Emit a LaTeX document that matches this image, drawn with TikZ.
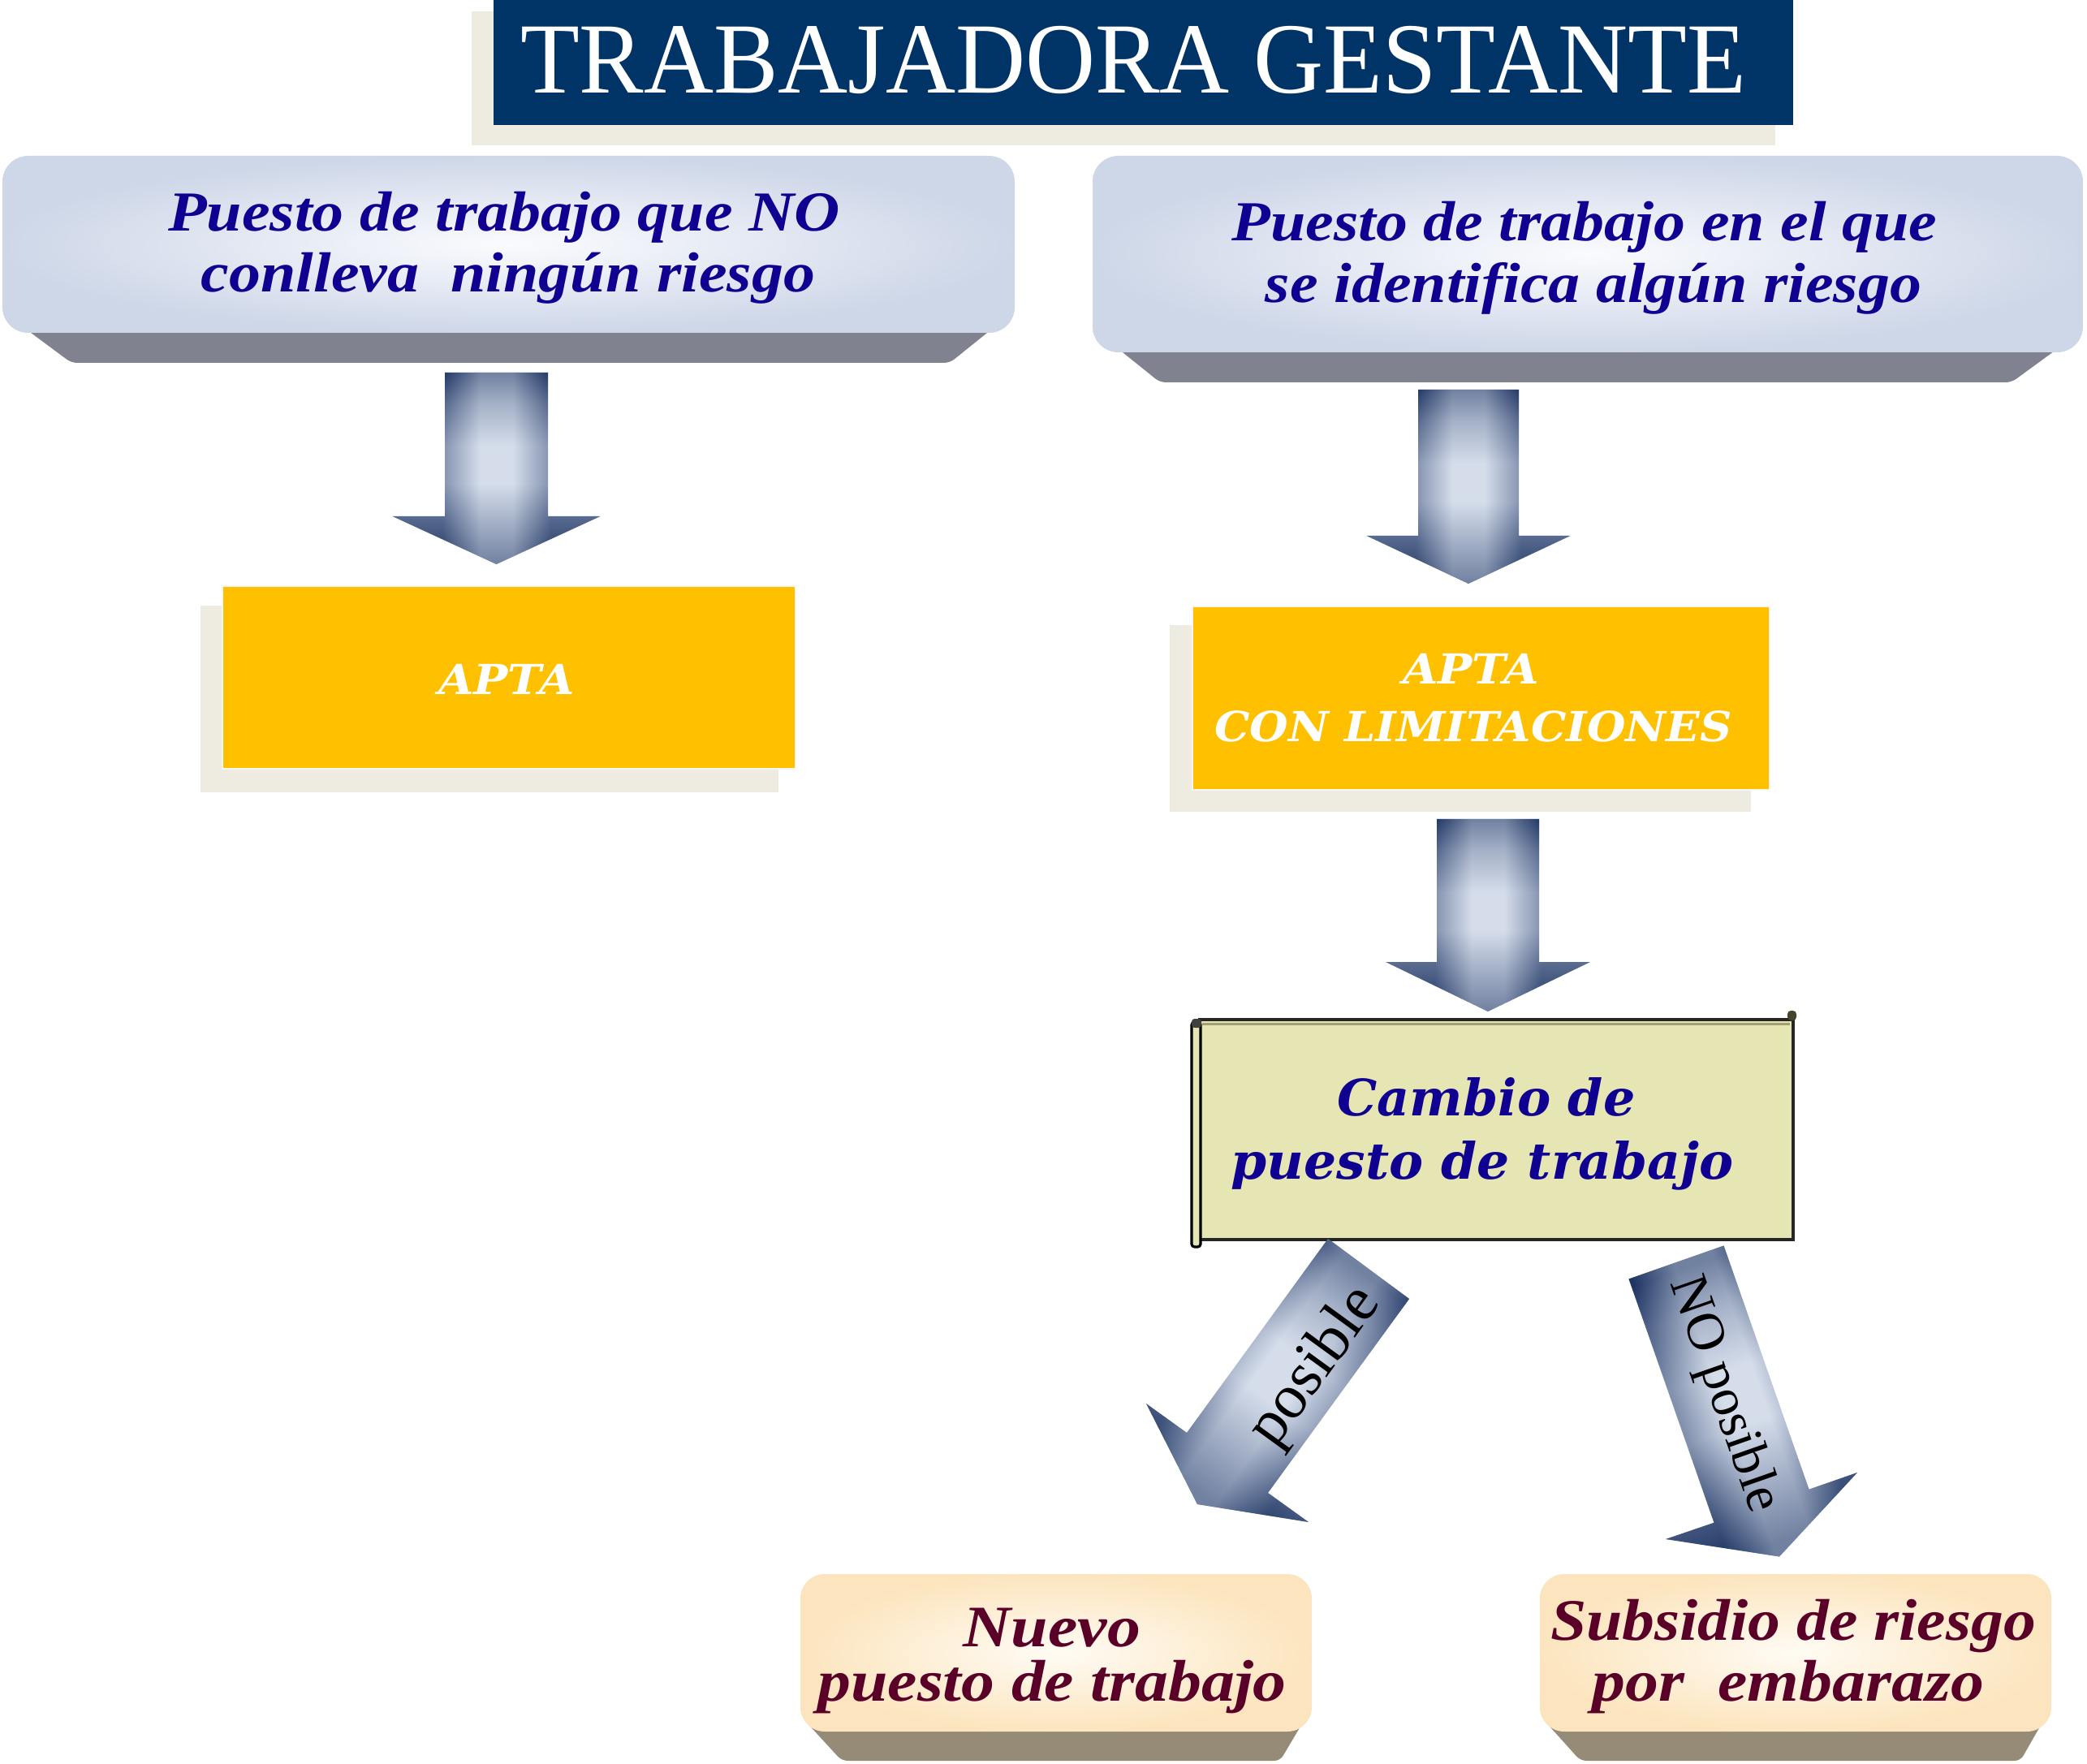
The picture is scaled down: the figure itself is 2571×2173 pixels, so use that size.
\documentclass[tikz,border=0pt]{standalone}
\usepackage{fontspec}
\usepackage{graphicx}
\newfontfamily\lsf{Liberation Serif}
\newfontfamily\djs{DejaVu Serif}
\definecolor{navy}{RGB}{0,51,102}
\definecolor{shbeige}{RGB}{238,236,225}
\definecolor{boxout}{RGB}{206,215,232}
\definecolor{boxin}{RGB}{250,251,254}
\definecolor{bevgray}{RGB}{128,131,143}
\definecolor{bluetxt}{RGB}{16,0,145}
\definecolor{aptay}{RGB}{255,192,0}
\definecolor{adark}{RGB}{31,54,100}
\definecolor{amid}{RGB}{125,140,170}
\definecolor{alight}{RGB}{213,221,235}
\definecolor{cambio}{RGB}{230,230,180}
\definecolor{cambioline}{RGB}{160,160,115}
\definecolor{creamout}{RGB}{252,229,190}
\definecolor{creamin}{RGB}{255,251,244}
\definecolor{bevbrown}{RGB}{150,139,119}
\definecolor{maroon}{RGB}{90,0,40}
\pgfdeclareverticalshading{arrowsh}{100bp}{color(0bp)=(adark); color(25bp)=(adark); color(36bp)=(amid); color(46bp)=(alight); color(56bp)=(alight); color(67bp)=(amid); color(75bp)=(adark); color(100bp)=(adark)}
\pgfdeclareverticalshading{sidesh}{100bp}{color(0bp)=(adark); color(25bp)=(adark); color(37bp)=(adark); color(46bp)=(alight); color(54bp)=(alight); color(63bp)=(adark); color(75bp)=(adark); color(100bp)=(adark)}
\newcommand\blockarrow[2]{%
  \shade[shading=arrowsh, shading angle=#2] #1;
  \shade[shading=sidesh, shading angle=#2+90, fill opacity=0.45] #1;}
\newcommand\varrow[6]{% xc, ytop, yhead, ytip, half shaft, half head
  \blockarrow{({#1-#5},#2) -- ({#1+#5},#2) -- ({#1+#5},#3) -- ({#1+#6},#3) -- (#1,#4) -- ({#1-#6},#3) -- ({#1-#5},#3) -- cycle}{0}}
\tikzset{
  bluefont/.style={font=\lsf\bfseries\itshape\fontsize{19.8pt}{21pt}\selectfont, text=bluetxt, anchor=base, inner sep=0pt},
  aptafont/.style={font=\djs\bfseries\itshape\fontsize{14.5pt}{16pt}\selectfont, text=white, anchor=base, inner sep=0pt},
  cambiofont/.style={font=\djs\bfseries\itshape\fontsize{17.6pt}{19pt}\selectfont, text=bluetxt, anchor=base, inner sep=0pt},
  creamfont/.style={font=\lsf\bfseries\itshape\fontsize{20.6pt}{22pt}\selectfont, text=maroon, anchor=base, inner sep=0pt},
  arrowfont/.style={text=black, inner sep=0pt}
}
\begin{document}
\begin{tikzpicture}[x=0.01cm,y=-0.01cm]
\useasboundingbox (0,0) rectangle (2571,2173);
% title
\fill[shbeige] (581,14) rectangle (2187,179);
\fill[navy] (608,0) rectangle (2209,154);
\node[font=\lsf\fontsize{35.3pt}{36pt}\selectfont, text=white, anchor=base, inner sep=0pt] (title) at (1396,115) {\scalebox{0.96}[1]{TRABAJADORA GESTANTE}};
% top left box
\fill[bevgray, rounded corners=2pt] (22,398) -- (1231,398) -- (1170,447) -- (88,447) -- cycle;
\shade[inner color=boxin, outer color=boxout, rounded corners=9pt] (3,192) rectangle (1250,410);
\node[bluefont] (tl1) at (621,285) {\scalebox{1.12}[1]{Puesto de trabajo que NO}};
\node[bluefont] (tl2) at (626,360) {\scalebox{1.12}[1]{conlleva\ \ ningún riesgo}};
% top right box
\fill[bevgray, rounded corners=2pt] (1368,422) -- (2545,422) -- (2478,471) -- (1429,471) -- cycle;
\shade[inner color=boxin, outer color=boxout, rounded corners=9pt] (1346,192) rectangle (2566,434);
\node[bluefont] (tr1) at (1952,297) {\scalebox{1.12}[1]{Puesto de trabajo en el que}};
\node[bluefont] (tr2) at (1963,373) {\scalebox{1.12}[1]{se identifica algún riesgo}};
% arrows down
\varrow{611.5}{459}{636}{695}{63.5}{128}
\varrow{1809}{480}{660}{719}{62}{125.5}
% APTA left
\fill[shbeige] (247,746) rectangle (959,976);
\fill[aptay] (274,722) rectangle (980,947);
\draw[white!60!shbeige, line width=0.8pt] (274,722) rectangle (980,947);
\node[aptafont] (apta) at (624,856) {\scalebox{1.10}[1]{APTA}};
% APTA right
\fill[shbeige] (1441,770) rectangle (2157,1000);
\fill[aptay] (1469,747) rectangle (2180,973);
\draw[white!60!shbeige, line width=0.8pt] (1469,747) rectangle (2180,973);
\node[aptafont] (apl1) at (1812,843) {\scalebox{1.10}[1]{APTA}};
\node[aptafont] (apl2) at (1815,913) {\scalebox{1.07}[1]{CON LIMITACIONES}};
\varrow{1833}{1009}{1185}{1246}{63}{126}
% Cambio box
\fill[cambio] (1472,1256) rectangle (2209,1527);
\draw[cambioline, line width=0.6pt] (1481,1261.5) -- (2205,1261.5);
\draw[black!85, line width=1.1pt] (1476,1256) -- (2209,1256) -- (2209,1527) -- (1476,1527);
\filldraw[fill=cambio, draw=black, line width=0.9pt, rounded corners=1pt] (1468,1259) rectangle (1479,1536);
\fill[black!75, rounded corners=1pt] (1468,1255) rectangle (1480,1266);
\fill[black!65!olive, rounded corners=1.2pt] (2202,1245) rectangle (2213,1257);
\node[cambiofont] (cb1) at (1831,1374) {\scalebox{1.0}[1]{Cambio de}};
\node[cambiofont] (cb2) at (1826,1452) {\scalebox{1.02}[1]{puesto de trabajo}};
% diagonal arrows
\blockarrow{(1636,1526) -- (1736,1600) -- (1562,1839) -- (1612,1875) -- (1475,1853) -- (1412,1729) -- (1462,1765) -- cycle}{-36}
\blockarrow{(2006.5,1575.5) -- (2123.5,1534.5) -- (2228.5,1834.7) -- (2288,1814) -- (2192,1917.5) -- (2052,1896) -- (2111.5,1875.7) -- cycle}{19.3}
\node[arrowfont, font=\lsf\fontsize{22pt}{22pt}\selectfont, rotate=54] (pos) at (1621,1684) {posible};
\node[arrowfont, font=\lsf\fontsize{18.8pt}{19pt}\selectfont, rotate=-70.7] (nopos) at (2123,1718) {NO posible};
% bottom left box
\fill[bevbrown, rounded corners=2pt] (992,2120) -- (1606,2120) -- (1577,2169) -- (1037,2169) -- cycle;
\shade[inner color=creamin, outer color=creamout, rounded corners=8.5pt] (986,1939) rectangle (1616,2133);
\node[creamfont] (nv1) at (1296,2028) {\scalebox{1.13}[1]{Nuevo}};
\node[creamfont] (nv2) at (1296,2095) {\scalebox{1.13}[1]{puesto de trabajo}};
% bottom right box
\fill[bevbrown, rounded corners=2pt] (1903,2120) -- (2517,2120) -- (2489,2169) -- (1947,2169) -- cycle;
\shade[inner color=creamin, outer color=creamout, rounded corners=8.5pt] (1897,1939) rectangle (2527,2133);
\node[creamfont] (sb1) at (2209,2020) {\scalebox{1.10}[1]{Subsidio de riesgo}};
\node[creamfont] (sb2) at (2203,2095) {\scalebox{1.13}[1]{por\ \ embarazo}};
\end{tikzpicture}
\end{document}
